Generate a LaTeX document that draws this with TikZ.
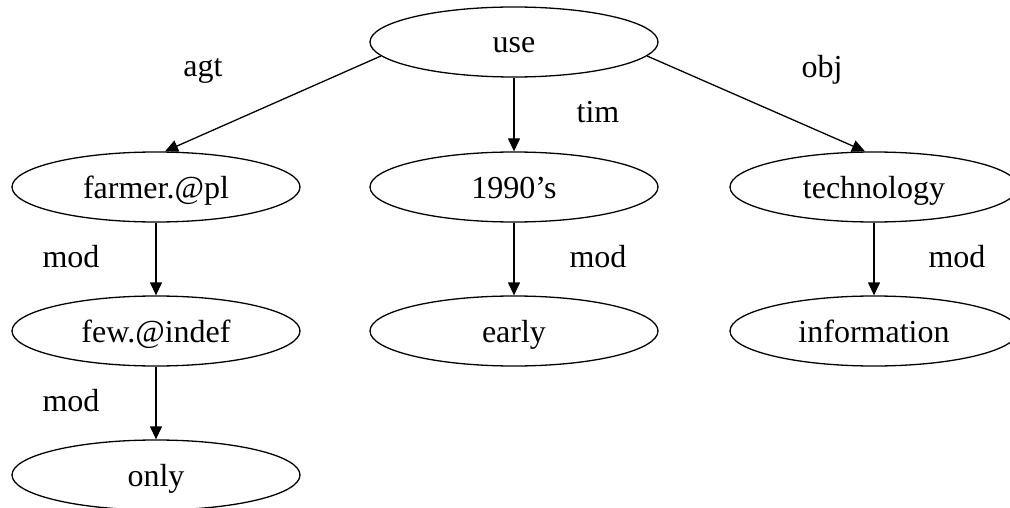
\documentclass[tikz,border=0pt]{standalone}
\usepackage{fontspec}
\setmainfont{Liberation Serif}
\usetikzlibrary{shapes.geometric,arrows.meta,calc}
\tikzset{
  concept/.style={ellipse,draw,line width=1.3pt,minimum width=288pt,minimum height=70pt,inner sep=0pt,text height=22pt,text depth=0pt,font=\fontsize{32}{36}\selectfont},
  rel/.style={font=\fontsize{32}{36}\selectfont,inner sep=0pt,text height=22pt,text depth=0pt},
  link/.style={line width=1.3pt,-{Triangle[length=13pt,width=12pt]}}
}
\begin{document}
\begin{tikzpicture}[x=1pt,y=-1pt]
\useasboundingbox (0,0) rectangle (1010,508);
\clip (0,0) rectangle (1010,508);
\node[concept] (use) at (514,42) {use};
\node[concept] (farmer) at (156,187) {farmer.@pl};
\node[concept] (y1990) at (514,187) {1990’s};
\node[concept] (tech) at (874,187) {technology};
\node[concept] (few) at (156,331) {few.@indef};
\node[concept] (early) at (514,331) {early};
\node[concept] (info) at (874,331) {information};
\node[concept] (only) at (156,475) {only};
\draw[link] (use.186) -- ($(farmer.north)+(9,0)$);
\draw[link] (use.south) -- (y1990.north);
\draw[link] (use.354) -- ($(tech.north)+(-9,0)$);
\draw[link] (farmer.south) -- (few.north);
\draw[link] (few.south) -- (only.north);
\draw[link] (y1990.south) -- (early.north);
\draw[link] (tech.south) -- (info.north);
\node[rel] (lagt) at (203,66) {agt};
\node[rel] (ltim) at (598,112) {tim};
\node[rel] (lobj) at (822,67) {obj};
\node[rel] (lmod1) at (71,256) {mod};
\node[rel] (lmod2) at (598,256) {mod};
\node[rel] (lmod3) at (957,256) {mod};
\node[rel] (lmod4) at (71,400) {mod};
\end{tikzpicture}
\end{document}
